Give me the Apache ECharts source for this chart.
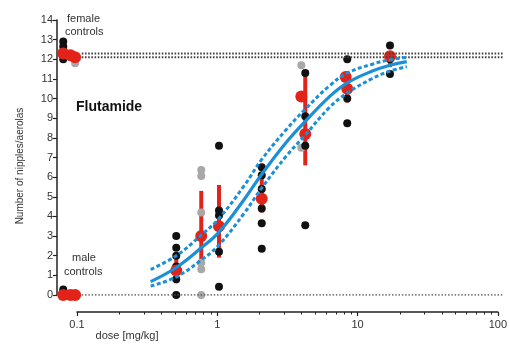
<!DOCTYPE html>
<html>
<head>
<meta charset="utf-8">
<script src="https://cdn.jsdelivr.net/npm/echarts@6/dist/echarts.min.js"></script>
<style>
html,body{margin:0;padding:0;background:#fff;}
#chart{width:510px;height:345px;}
</style>
</head>
<body>
<div id="chart"></div>
<script>
// ---------- data ----------
const xTickLabels = [0.1, 1, 10, 100];
const yMax = 14;

// individual animals (black = one cohort, gray = another cohort)
const blackDots = [
  [0.08, 12.9], [0.08, 12.65], [0.08, 12.0], [0.08, 0.28],
  [0.5, 3.0], [0.5, 2.4], [0.5, 2.0], [0.5, 1.45], [0.5, 0.8], [0.5, 0],
  [1, 7.6], [1, 4.3], [1, 4.05], [1, 2.2], [1, 0.42],
  [2, 6.5], [2, 6.1], [2, 5.4], [2, 4.4], [2, 3.65], [2, 2.35],
  [4.05, 11.3], [4.05, 9.1], [4.05, 7.6], [4.05, 3.55],
  [8, 12.0], [8, 10.0], [8, 8.75],
  [16, 12.7], [16, 12.0], [16, 11.25]
];
const grayDots = [
  [0.097, 11.8],
  [0.75, 6.36], [0.75, 6.06], [0.75, 4.2], [0.75, 1.64], [0.75, 1.31], [0.75, 0],
  [3.8, 11.7], [3.8, 7.5]
];

// group means (red) and their error bars
const meanDose  = [0.08, 0.09, 0.097, 0.08, 0.09, 0.097, 0.5, 0.75, 1, 2, 3.8, 4.05, 7.8, 8, 16];
const meanValue = [12.3, 12.2, 12.1, 0, 0, 0, 1.25, 3.0, 3.5, 4.9, 10.1, 8.2, 11.1, 10.5, 12.15];
const barDose = [0.5, 0.75, 1, 2, 4.05, 8, 16];
const barLow  = [0.6, 1.3, 1.9, 4.2, 6.6, 9.8, 11.6];
const barHigh = [1.9, 5.3, 5.6, 6.0, 11.4, 11.4, 12.35];

// control reference lines
const femaleLevels = [12.1, 12.3];
const maleLevel = 0;
const refLineDose = [0.108, 100];

// fitted dose-response curve with confidence band
const curveDose  = [0.33, 0.5, 0.75, 1, 1.5, 2, 3, 4, 6, 8, 12, 16, 21];
const curveFit   = [0.68, 1.40, 2.40, 3.20, 4.85, 6.15, 7.80, 8.80, 10.10, 10.80, 11.40, 11.70, 11.88];
const curveUpper = [1.30, 2.00, 3.05, 3.90, 5.55, 6.90, 8.45, 9.42, 10.65, 11.30, 11.75, 11.98, 12.10];
const curveLower = [0.45, 0.92, 1.78, 2.55, 4.15, 5.45, 7.10, 8.10, 9.55, 10.28, 11.02, 11.40, 11.62];

// ---------- chart ----------
const RED = '#e2231a', BLUE = '#1b8fd8', BLACK = '#111', GRAY = '#a8a8a8';
const FONT = 'Liberation Sans, Arial, sans-serif';
const zip = (xs, ys) => xs.map((x, i) => [x, ys[i]]);

const chart = echarts.init(document.getElementById('chart'), null, {renderer: 'canvas'});
const option = {
  animation: false,
  backgroundColor: '#fff',
  textStyle: {fontFamily: FONT},
  grid: [
    {left: 57, right: 7, top: 20, bottom: 50},
    {left: 77, right: 7, top: 20, bottom: 33}
  ],
  xAxis: [
    {gridIndex: 0, type: 'log', logBase: 10, min: 0.0723, max: 100, show: false},
    {gridIndex: 1, type: 'log', logBase: 10, min: xTickLabels[0], max: xTickLabels[xTickLabels.length - 1],
     position: 'bottom',
     axisLine: {show: true, lineStyle: {color: '#222', width: 1.5}},
     axisTick: {show: true, length: 4, lineStyle: {color: '#222', width: 1.2}},
     minorTick: {show: true, splitNumber: 9, length: 2.5, lineStyle: {color: '#222', width: 1}},
     splitLine: {show: false}, minorSplitLine: {show: false},
     axisLabel: {fontSize: 11, color: '#333', margin: 7, fontFamily: FONT,
       formatter: v => String(v)}}
  ],
  yAxis: [
    {gridIndex: 0, type: 'value', min: 0, max: yMax, interval: 1,
     axisLine: {show: true, lineStyle: {color: '#222', width: 1.5}},
     axisTick: {show: true, length: 4, lineStyle: {color: '#222', width: 1.2}},
     splitLine: {show: false},
     axisLabel: {fontSize: 11, color: '#333', margin: 4, fontFamily: FONT}},
    {gridIndex: 1, type: 'value', min: 0, max: yMax, show: false}
  ],
  series: [
    ...femaleLevels.map(lv => ({
      type: 'line', xAxisIndex: 0, yAxisIndex: 0, symbol: 'none', silent: true,
      data: refLineDose.map(d => [d, lv]),
      lineStyle: {color: '#444', width: 2, type: [1.6, 1.6]}
    })),
    {type: 'line', xAxisIndex: 0, yAxisIndex: 0, symbol: 'none', silent: true,
     data: refLineDose.map(d => [d, maleLevel]),
     lineStyle: {color: '#555', width: 1.5, type: [1.5, 1.8]}},
    {type: 'scatter', xAxisIndex: 0, yAxisIndex: 0, data: grayDots, symbolSize: 8,
     itemStyle: {color: GRAY, opacity: 1}, clip: false},
    {type: 'scatter', xAxisIndex: 0, yAxisIndex: 0, data: blackDots, symbolSize: 8,
     itemStyle: {color: BLACK, opacity: 1}, clip: false},
    {type: 'custom', xAxisIndex: 0, yAxisIndex: 0,
     data: barDose.map((d, i) => [d, barLow[i], barHigh[i]]),
     encode: {x: 0, y: [1, 2]},
     renderItem: (params, api) => {
       const p1 = api.coord([api.value(0), api.value(1)]);
       const p2 = api.coord([api.value(0), api.value(2)]);
       return {type: 'line', shape: {x1: p1[0], y1: p1[1], x2: p2[0], y2: p2[1]},
               style: {stroke: RED, lineWidth: 4}};
     }},
    {type: 'scatter', xAxisIndex: 0, yAxisIndex: 0, data: zip(meanDose, meanValue), symbolSize: 12,
     itemStyle: {color: RED, opacity: 1}, clip: false},
    {type: 'line', xAxisIndex: 0, yAxisIndex: 0, symbol: 'none', smooth: 0.4,
     data: zip(curveDose, curveUpper), lineStyle: {color: BLUE, width: 3, type: [4, 2.5]}},
    {type: 'line', xAxisIndex: 0, yAxisIndex: 0, symbol: 'none', smooth: 0.4,
     data: zip(curveDose, curveLower), lineStyle: {color: BLUE, width: 3, type: [4, 2.5]}},
    {type: 'line', xAxisIndex: 0, yAxisIndex: 0, symbol: 'none', smooth: 0.4,
     data: zip(curveDose, curveFit), lineStyle: {color: BLUE, width: 3.2}}
  ],
  graphic: [
    {type: 'text', left: 67, top: 13, style: {text: 'female', font: '11px ' + FONT, fill: '#333'}},
    {type: 'text', left: 65, top: 26, style: {text: 'controls', font: '11px ' + FONT, fill: '#333'}},
    {type: 'text', left: 72, top: 252, style: {text: 'male', font: '11px ' + FONT, fill: '#333'}},
    {type: 'text', left: 64, top: 266, style: {text: 'controls', font: '11px ' + FONT, fill: '#333'}},
    {type: 'text', left: 76, top: 100, style: {text: 'Flutamide', font: 'bold 14px ' + FONT, fill: '#111'}},
    {type: 'text', x: 127, y: 336, style: {text: 'dose [mg/kg]', font: '11px ' + FONT, fill: '#333',
      align: 'center', verticalAlign: 'middle'}},
    {type: 'text', x: 20, y: 166, rotation: Math.PI / 2,
     style: {text: 'Number of nipples/aerolas', font: '10px ' + FONT, fill: '#333',
       align: 'center', verticalAlign: 'middle'}}
  ]
};
chart.setOption(option);
</script>
</body>
</html>
